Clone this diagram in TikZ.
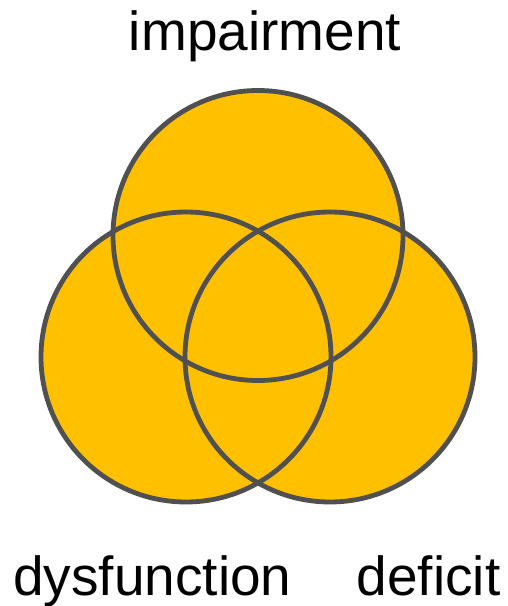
\documentclass[tikz,border=0pt]{standalone}
\usepackage{fontspec}
\setmainfont{Liberation Sans}
\definecolor{vennfill}{HTML}{FFC000}
\definecolor{vennline}{HTML}{505050}
\tikzset{
  blob/.style={circle, fill=vennfill, minimum size=290pt, inner sep=0pt},
  ring/.style={circle, draw=vennline, line width=4.8pt, minimum size=290pt, inner sep=0pt},
  term/.style={anchor=base, inner sep=0pt, font=\fontsize{55}{60}\selectfont}
}
\begin{document}
\begin{tikzpicture}[x=1pt,y=-1pt]
\useasboundingbox (0,0) rectangle (508,606);
\node[blob] (impair) at (258,235.5) {};
\node[blob] (dysf) at (186,357) {};
\node[blob] (defic) at (330,357) {};
\foreach \c in {impair,dysf,defic}
  \node[ring] at (\c) {};

\node[term] (impairlbl) at (265,50) {impairment};
\node[term] (dysflbl) at (152.5,595) {dysfunction};
\node[term] (deficlbl) at (428.5,595) {deficit};
\end{tikzpicture}
\end{document}
